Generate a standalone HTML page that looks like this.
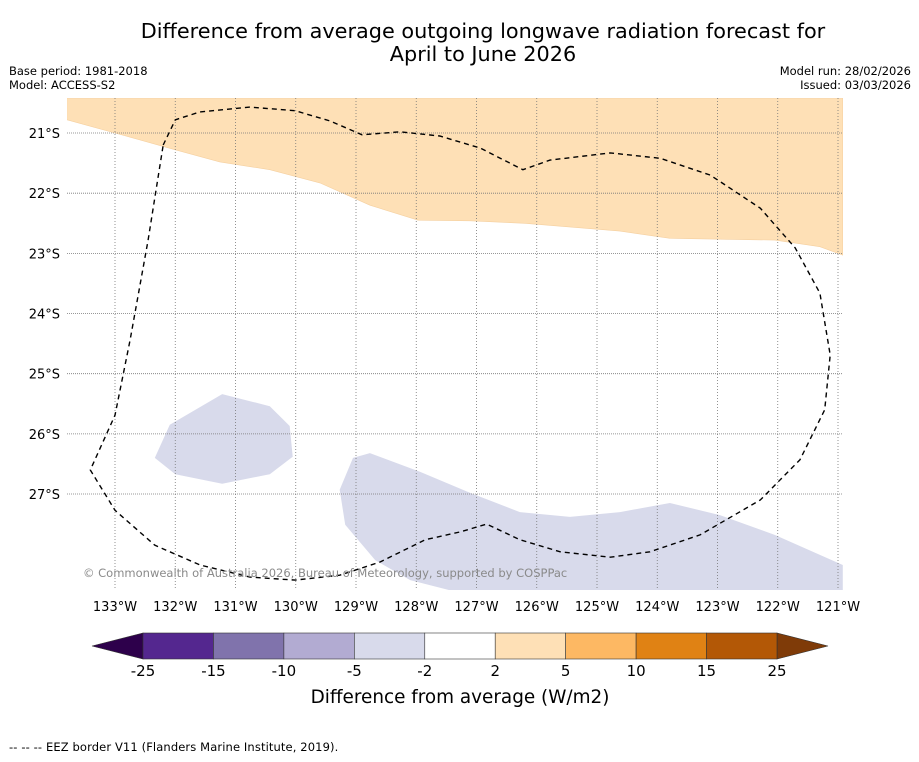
<!DOCTYPE html>
<html><head><meta charset="utf-8"><style>
body{margin:0;background:#fff;font-family:"DejaVu Sans","Liberation Sans",sans-serif;}
</style></head><body>
<svg id="c" width="919" height="758" xmlns="http://www.w3.org/2000/svg" font-family="DejaVu Sans, Liberation Sans, sans-serif">
<rect width="919" height="758" fill="#fff"/>
<text x="483" y="38" font-size="20.8" text-anchor="middle">Difference from average outgoing longwave radiation forecast for</text>
<text x="483" y="61" font-size="20.8" text-anchor="middle">April to June 2026</text>
<text x="9" y="75" font-size="11.5">Base period: 1981-2018</text>
<text x="9" y="89" font-size="11.5">Model: ACCESS-S2</text>
<text x="911" y="75" font-size="11.5" text-anchor="end">Model run: 28/02/2026</text>
<text x="911" y="89" font-size="11.5" text-anchor="end">Issued: 03/03/2026</text>
<g id="map"></g>
<g id="cbar"></g>
<text x="460" y="703" font-size="18.4" text-anchor="middle">Difference from average (W/m2)</text>
<text x="9" y="751" font-size="11.5" letter-spacing="0.12">--  --  -- EEZ border V11 (Flanders Marine Institute, 2019).</text>
</svg>
<script>
const NS="http://www.w3.org/2000/svg";
// data (lon °W, lat °S)
const lonTicks=[133,132,131,130,129,128,127,126,125,124,123,122,121];
const latTicks=[21,22,23,24,25,26,27];
const posRegionLon=[133.8,133.0,132.0,131.26,130.43,129.6,128.77,127.97,127.11,126.2,124.62,123.79,122.05,121.3,120.92,120.92,133.8];
const posRegionLat=[20.78,21.0,21.28,21.48,21.61,21.83,22.2,22.45,22.46,22.5,22.63,22.75,22.78,22.89,23.03,20.42,20.42];
const negRegion1Lon=[132.34,132.09,131.22,130.43,130.10,130.05,130.43,131.22,132.0];
const negRegion1Lat=[26.40,25.85,25.34,25.54,25.87,26.38,26.67,26.83,26.67];
const negRegion2Lon=[129.27,129.05,128.77,127.94,127.11,126.28,125.45,124.62,123.79,122.96,122.05,120.92,120.92,127.44,128.1,128.68,129.18];
const negRegion2Lat=[26.93,26.40,26.32,26.63,26.98,27.30,27.38,27.30,27.15,27.35,27.68,28.18,28.6,28.6,28.43,28.10,27.51];
const eezLon=[132.20,132.00,131.59,130.76,130.01,129.43,128.90,128.27,127.61,126.94,126.23,125.78,124.78,123.95,123.12,122.29,121.71,121.30,121.13,121.22,121.63,122.29,123.29,124.12,124.78,125.61,126.28,126.83,127.27,127.85,128.60,129.27,130.01,130.76,131.59,132.34,133.00,133.41,133.00,132.75,132.45,132.20];
const eezLat=[21.20,20.78,20.65,20.57,20.63,20.80,21.03,20.98,21.05,21.25,21.61,21.45,21.33,21.42,21.70,22.25,22.91,23.66,24.69,25.60,26.43,27.10,27.68,27.96,28.05,27.96,27.76,27.50,27.63,27.76,28.13,28.35,28.43,28.38,28.18,27.85,27.27,26.60,25.69,24.44,22.78,21.20];
const cbLevels=["-25","-15","-10","-5","-2","2","5","10","15","25"];
const cbColors=["#54278f","#8073ac","#b2abd2","#d8daeb","#ffffff","#fee0b6","#fdb863","#e08214","#b35806"];
const cbExt=["#2d004b","#7f3b08"];

const X0=67,X1=843,Y0=98,Y1=590;
const xs=lon=>115+(133-lon)*60.25;
const ys=lat=>133+(lat-21)*60.17;
const map=document.getElementById('map');
function mk(t,a,p){const e=document.createElementNS(NS,t);for(const k in a)e.setAttribute(k,a[k]);(p||map).appendChild(e);return e;}
const clip=mk('clipPath',{id:'mc'});mk('rect',{x:X0,y:Y0,width:X1-X0,height:Y1-Y0},clip);
const g=mk('g',{'clip-path':'url(#mc)'});
function poly(lons,lats,attrs,name){
  const pts=lons.map((l,i)=>xs(l).toFixed(1)+','+ys(lats[i]).toFixed(1)).join(' ');
  const e=mk(attrs.closed===false?'polyline':'polygon',Object.assign({points:pts},attrs),g);
  e.removeAttribute('closed');
  
  
  return e;}
poly(posRegionLon,posRegionLat,{fill:'#fee0b6',stroke:'#f5d0a0','stroke-width':0.6},'positive-anomaly-region');
poly(negRegion1Lon,negRegion1Lat,{fill:'#d8daeb'},'negative-anomaly-region-west');
poly(negRegion2Lon,negRegion2Lat,{fill:'#d8daeb'},'negative-anomaly-region-south');
lonTicks.forEach(l=>{
  const ln=mk('line',{x1:xs(l),x2:xs(l),y1:Y0,y2:Y1,stroke:'#777','stroke-width':0.8,'stroke-dasharray':'1,2'},g);
  
  
  const t=mk('text',{x:xs(l),y:611,'font-size':13,'text-anchor':'middle'});
  t.textContent=l+'°W';
  
  
});
latTicks.forEach(l=>{
  const ln=mk('line',{x1:X0,x2:X1,y1:ys(l),y2:ys(l),stroke:'#777','stroke-width':0.8,'stroke-dasharray':'1,1'},g);
  
  
  const t=mk('text',{x:60,y:ys(l)+5,'font-size':13,'text-anchor':'end'});
  t.textContent=l+'°S';
  
  
});
poly(eezLon,eezLat,{fill:'none',stroke:'#000','stroke-width':1.4,'stroke-dasharray':'5,4',closed:false},'eez-border');
const cp=mk('text',{x:83,y:577,'font-size':11.5,fill:'#8a8a8a'});
cp.textContent='© Commonwealth of Australia 2026, Bureau of Meteorology, supported by COSPPac';



// colorbar
const cb=document.getElementById('cbar');
const CB0=143,CB1=777,CBY=633,CBH=26;
const w=(CB1-CB0)/cbColors.length;
const l1=mk('polygon',{points:`${CB0},${CBY} ${CB0},${CBY+CBH} 92,${CBY+CBH/2}`,fill:cbExt[0],stroke:'#333','stroke-width':0.6},cb);


const l2=mk('polygon',{points:`${CB1},${CBY} ${CB1},${CBY+CBH} 828,${CBY+CBH/2}`,fill:cbExt[1],stroke:'#333','stroke-width':0.6},cb);


cbColors.forEach((c,i)=>{
  const r=mk('rect',{x:CB0+i*w,y:CBY,width:w,height:CBH,fill:c,stroke:'#333','stroke-width':0.6},cb);
  
  
});
cbLevels.forEach((s,i)=>{
  const t=mk('text',{x:CB0+i*w,y:676,'font-size':15,'text-anchor':'middle'},cb);
  t.textContent=s;
  
  
});
</script>
</body></html>
